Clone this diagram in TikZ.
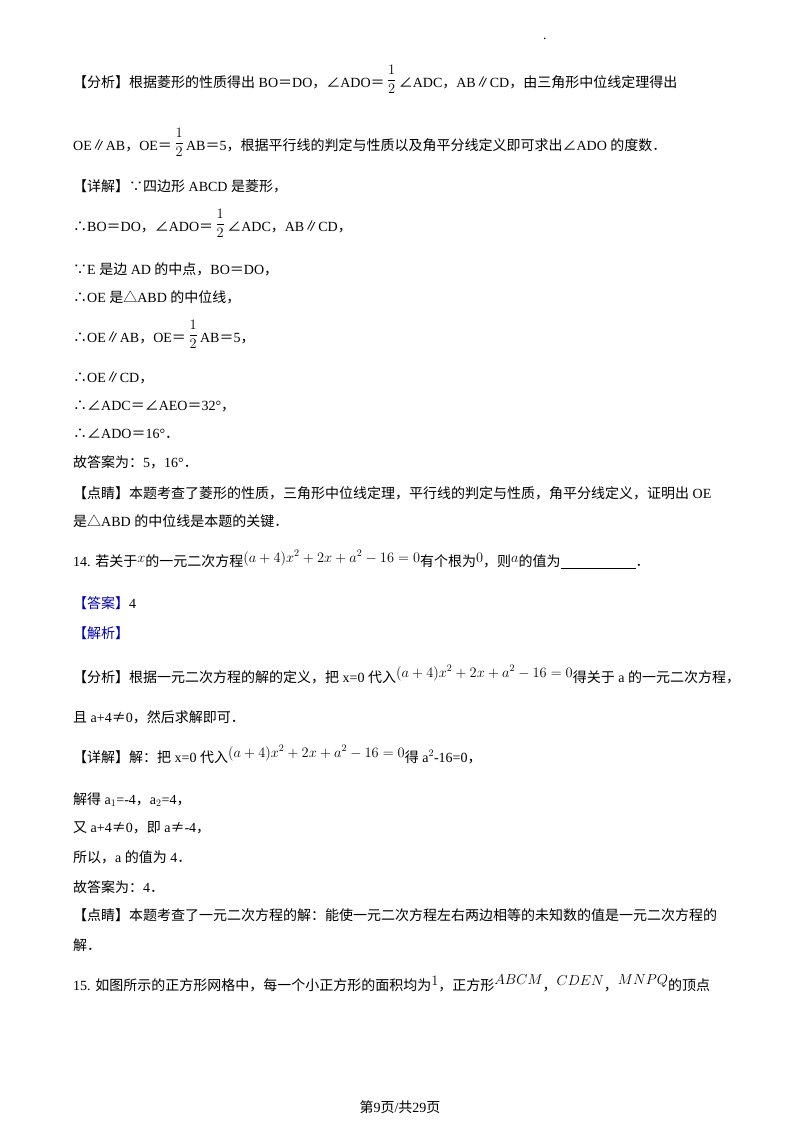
\documentclass[tikz,border=0pt]{standalone}
\usepackage{fontspec}
\setmainfont{Liberation Serif}
\newfontfamily\cjk{Noto Sans CJK SC}
\newfontfamily\latn{Liberation Serif}
\XeTeXinterchartokenstate=1
\newXeTeXintercharclass\cjkclass
\newcount\cc
\cc="4E00 \loop\ifnum\cc<"A000 \XeTeXcharclass\cc=\cjkclass \advance\cc by 1 \repeat
\cc="3000 \loop\ifnum\cc<"3040 \XeTeXcharclass\cc=\cjkclass \advance\cc by 1 \repeat
\cc="FF00 \loop\ifnum\cc<"FFF0 \XeTeXcharclass\cc=\cjkclass \advance\cc by 1 \repeat
\XeTeXcharclass"2220=\cjkclass \XeTeXcharclass"2225=\cjkclass \XeTeXcharclass"25B3=\cjkclass
\XeTeXcharclass"2235=\cjkclass \XeTeXcharclass"2234=\cjkclass \XeTeXcharclass"2260=\cjkclass
\XeTeXinterchartoks 0 \cjkclass = {\cjk}
\XeTeXinterchartoks 4095 \cjkclass = {\cjk}
\XeTeXinterchartoks \cjkclass 0 = {\latn}
\XeTeXinterchartoks \cjkclass 4095 = {\latn}
\newcommand\lsp{\latn\ }
\newcommand\hf{\,\raisebox{3pt}{$\displaystyle\frac{1}{2}$}\,}
\newcommand\eq{$(a+4)x^2+2x+a^2-16=0$}
\begin{document}
\begin{tikzpicture}[x=1pt,y=-1pt,t/.style={anchor=base west,inner sep=0pt,font=\fontsize{14}{16}\selectfont},bl/.style={t,text=blue!70!black}]
\useasboundingbox (0,0) rectangle (800,1132);
\node[t] at (543,40) {.};
\node[t] (l1) at (73,87) {【分析】根据菱形的性质得出\lsp BO＝DO，∠ADO＝\hf∠ADC，AB∥CD，由三角形中位线定理得出};
\node[t] (l2) at (73,150) {OE∥AB，OE＝\hf AB＝5，根据平行线的判定与性质以及角平分线定义即可求出∠ADO 的度数．};
\node[t] (l3) at (73,191) {【详解】∵四边形\lsp ABCD 是菱形，};
\node[t] (l4) at (73,231) {∴BO＝DO，∠ADO＝\hf∠ADC，AB∥CD，};
\node[t] (l5) at (73,274) {∵E 是边\lsp AD 的中点，BO＝DO，};
\node[t] (l6) at (73,302) {∴OE 是△ABD 的中位线，};
\node[t] (l7) at (73,342) {∴OE∥AB，OE＝\hf AB＝5，};
\node[t] (l8) at (73,382) {∴OE∥CD，};
\node[t] (l9) at (73,410) {∴∠ADC＝∠AEO＝32°，};
\node[t] (l10) at (73,438) {∴∠ADO＝16°．};
\node[t] (l11) at (73,467) {故答案为：5，16°．};
\node[t] (l12) at (73,498) {【点睛】本题考查了菱形的性质，三角形中位线定理，平行线的判定与性质，角平分线定义，证明出\lsp OE};
\node[t] (l13) at (73,526) {是△ABD 的中位线是本题的关键．};
\node[t] (l14) at (73,566) {14. 若关于\raisebox{4pt}{$x$}的一元二次方程\raisebox{4pt}{\eq}有个根为\raisebox{4pt}{$0$}，则\raisebox{4pt}{$a$}的值为\rule[-2pt]{75pt}{0.5pt}．};
\node[bl] (l15) at (73,608) {【答案】\textcolor{black}{4}};
\node[bl] (l16) at (73,638) {【解析】};
\node[t] (l17) at (73,682) {【分析】根据一元二次方程的解的定义，把\lsp x=0 代入\raisebox{5pt}{\eq}得关于\lsp a 的一元二次方程，};
\node[t] (l18) at (73,722) {且\lsp a+4≠0，然后求解即可．};
\node[t] (l19) at (73,762) {【详解】解：把\lsp x=0 代入\raisebox{5pt}{\eq}得\lsp a$^2$-16=0，};
\node[t] (l20) at (73,804) {解得\lsp a$_1$=-4，a$_2$=4，};
\node[t] (l21) at (73,832) {又\lsp a+4≠0，即\lsp a≠-4，};
\node[t] (l22) at (73,862) {所以，a 的值为\lsp 4．};
\node[t] (l23) at (73,892) {故答案为：4．};
\node[t] (l24) at (73,920) {【点睛】本题考查了一元二次方程的解：能使一元二次方程左右两边相等的未知数的值是一元二次方程的};
\node[t] (l25) at (73,950) {解．};
\node[t] (l26) at (73,990) {15. 如图所示的正方形网格中，每一个小正方形的面积均为\raisebox{5pt}{$1$}，正方形\raisebox{6pt}{$ABCM$}，\raisebox{5pt}{$CDEN$}，\raisebox{6pt}{$MNPQ$}的顶点};
\node[t,anchor=base] (ft) at (400,1112) {第9页/共29页};
\end{tikzpicture}
\end{document}
